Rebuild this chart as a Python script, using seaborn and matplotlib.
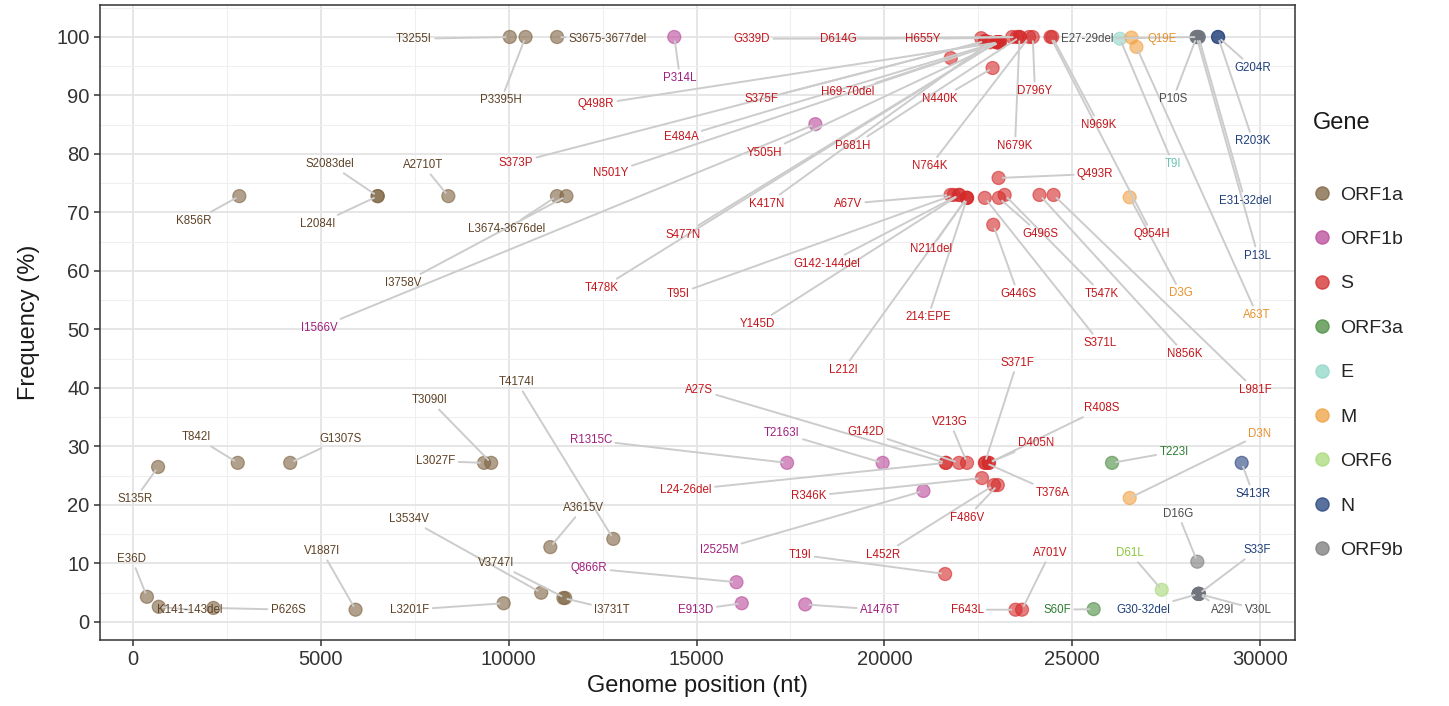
import matplotlib
matplotlib.use("Agg")
import matplotlib.pyplot as plt
from matplotlib.lines import Line2D
from matplotlib.ticker import MultipleLocator
import seaborn as sns
import pandas as pd

# ---------------- data ----------------
gene_order = ["ORF1a", "ORF1b", "S", "ORF3a", "E", "M", "ORF6", "N", "ORF9b"]

genes = (["ORF1a"] * 24 + ["ORF1b"] * 8 + ["S"] * 48 + ["ORF3a"] * 2 + ["E"] * 1
         + ["M"] * 4 + ["ORF6"] * 1 + ["N"] * 7 + ["ORF9b"] * 5)

mutations = [
    # ORF1a
    "S135R", "T842I", "G1307S", "L3027F", "T3090I", "T4174I", "A3615V", "L3534V",
    "V3747I", "I3731T", "E36D", "K141-143del", "P626S", "V1887I", "L3201F",
    "T3255I", "P3395H", "S3675-3677del", "K856R", "S2083del", "L2084I", "A2710T",
    "L3674-3676del", "I3758V",
    # ORF1b
    "P314L", "I1566V", "R1315C", "T2163I", "I2525M", "Q866R", "E913D", "A1476T",
    # S
    "G339D", "D614G", "H655Y", "Q498R", "S375F", "H69-70del", "N440K", "D796Y",
    "E484A", "Y505H", "P681H", "N501Y", "S373P", "K417N", "N764K", "N679K",
    "S477N", "T478K", "N969K", "Q954H",
    "A67V", "T95I", "G142-144del", "Y145D", "N211del", "L212I", "214:EPE", "S371L",
    "G496S", "T547K", "N856K", "L981F", "Q493R", "G446S",
    "L24-26del", "A27S", "G142D", "V213G", "S371F", "T376A", "D405N", "R408S",
    "R346K", "L452R", "F486V", "T19I", "A701V", "F643L",
    # ORF3a
    "T223I", "S60F",
    # E
    "T9I",
    # M
    "Q19E", "A63T", "D3G", "D3N",
    # ORF6
    "D61L",
    # N
    "G204R", "R203K", "P13L", "E31-32del", "S413R", "S33F", "G30-32del",
    # ORF9b
    "E27-29del", "P10S", "D16G", "A29I", "V30L",
]

position_nt = [
    # ORF1a
    668, 2789, 4184, 9344, 9533, 12785, 11108, 10865,
    11504, 11456, 371, 686, 2141, 5924, 9866,
    10029, 10449, 11288, 2831, 6512, 6515, 8393,
    11285, 11537,
    # ORF1b
    14407, 18163, 17410, 19954, 21040, 16063, 16204, 17893,
    # S
    22577, 23402, 23525, 23054, 22685, 21767, 22880, 23948,
    23012, 23075, 23603, 23063, 22679, 22811, 23852, 23597,
    22991, 22994, 24467, 24422,
    21761, 21845, 21986, 21995, 22193, 22196, 22202, 22673,
    23048, 23201, 24128, 24503, 23039, 22898,
    21632, 21641, 21986, 22200, 22673, 22688, 22775, 22784,
    22598, 22916, 23018, 21617, 23663, 23489,
    # ORF3a
    26059, 25570,
    # E
    26269,
    # M
    26577, 26709, 26529, 26529,
    # ORF6
    27382,
    # N
    28883, 28880, 28310, 28364, 29510, 28370, 28361,
    # ORF9b
    28362, 28311, 28329, 28368, 28371,
]

frequency = [
    # ORF1a
    26.5, 27.2, 27.2, 27.2, 27.2, 14.2, 12.8, 5.0,
    4.1, 4.1, 4.3, 2.6, 2.4, 2.1, 3.2,
    100.0, 100.0, 100.0, 72.8, 72.8, 72.8, 72.8,
    72.8, 72.8,
    # ORF1b
    100.0, 85.1, 27.2, 27.2, 22.4, 6.8, 3.2, 3.0,
    # S
    99.8, 100.0, 100.0, 99.1, 99.3, 96.4, 94.7, 100.0,
    99.1, 99.1, 100.0, 99.1, 99.3, 99.1, 100.0, 100.0,
    99.1, 99.1, 100.0, 100.0,
    73.0, 73.0, 73.0, 73.0, 72.5, 72.5, 72.5, 72.5,
    72.5, 73.0, 73.0, 73.0, 75.9, 67.9,
    27.2, 27.2, 27.2, 27.2, 27.2, 27.2, 27.2, 27.2,
    24.6, 23.4, 23.4, 8.2, 2.1, 2.1,
    # ORF3a
    27.2, 2.2,
    # E
    99.7,
    # M
    99.9, 98.3, 72.6, 21.2,
    # ORF6
    5.5,
    # N
    100.0, 100.0, 100.0, 100.0, 27.2, 4.8, 4.8,
    # ORF9b
    100.0, 100.0, 10.3, 4.8, 4.8,
]

# ---------------- layout: repelled label anchor positions (data units) ----------------
label_xy = {
    "S135R": (53, 21.0), "T842I": (1677, 31.6), "G1307S": (5536, 31.3),
    "L3027F": (8065, 27.5), "T3090I": (7905, 37.9), "T4174I": (10221, 41.0),
    "A3615V": (11978, 19.5), "L3534V": (7346, 17.6), "V3747I": (9662, 10.1),
    "I3731T": (12750, 2.1), "E36D": (-27, 10.8), "K141-143del": (1517, 2.1),
    "P626S": (4126, 2.1), "V1887I": (5031, 12.1), "L3201F": (7373, 2.1),
    "T3255I": (7479, 99.7), "P3395H": (9795, 89.2), "S3675-3677del": (12643, 99.7),
    "K856R": (1624, 68.5), "S2083del": (5244, 78.3), "L2084I": (4924, 68.0),
    "A2710T": (7719, 78.1), "L3674-3676del": (9955, 67.2), "I3758V": (7187, 57.9),
    "P314L": (14560, 93.0), "I1566V": (4951, 50.3), "R1315C": (12190, 31.1),
    "T2163I": (17274, 32.3), "I2525M": (15598, 12.3), "Q866R": (12137, 9.2),
    "E913D": (14985, 2.1), "A1476T": (19883, 2.1),
    "G339D": (16476, 99.7), "D614G": (18765, 99.7), "H655Y": (21027, 99.7),
    "Q498R": (12324, 88.5), "S375F": (16742, 89.4), "H69-70del": (19031, 90.6),
    "N440K": (21480, 89.4), "D796Y": (24008, 90.8), "E484A": (14586, 82.9),
    "Y505H": (16822, 80.2), "P681H": (19164, 81.4), "N501Y": (12723, 76.8),
    "S373P": (10194, 78.5), "K417N": (16875, 71.5), "N764K": (21214, 77.9),
    "N679K": (23476, 81.4), "S477N": (14639, 66.2), "T478K": (12483, 57.1),
    "N969K": (25712, 85.0), "Q954H": (27123, 66.3),
    "A67V": (19031, 71.5), "T95I": (14506, 56.1), "G142-144del": (18472, 61.2),
    "Y145D": (16609, 50.9), "N211del": (21240, 63.8), "L212I": (18898, 43.1),
    "214:EPE": (21161, 52.1), "S371L": (25739, 47.7), "G496S": (24142, 66.3),
    "T547K": (25792, 56.1), "N856K": (28001, 45.8), "L981F": (29864, 39.7),
    "Q493R": (25606, 76.6), "G446S": (23556, 56.1),
    "L24-26del": (14719, 22.6), "A27S": (15065, 39.7), "G142D": (19510, 32.5),
    "V213G": (21746, 34.2), "S371F": (23529, 44.3), "T376A": (24488, 22.1),
    "D405N": (24035, 30.6), "R408S": (25792, 36.6), "R346K": (17993, 21.5),
    "L452R": (19963, 11.5), "F486V": (22199, 17.8), "T19I": (17754, 11.5),
    "A701V": (24408, 11.8), "F643L": (22199, 2.1),
    "T223I": (27708, 29.1), "S60F": (24594, 2.1),
    "T9I": (27682, 78.3),
    "Q19E": (27388, 99.7), "A63T": (29918, 52.5), "D3G": (27895, 56.2), "D3N": (29997, 32.1),
    "D61L": (26537, 11.8),
    "G204R": (29811, 94.7), "R203K": (29811, 82.2), "P13L": (29944, 62.6),
    "E31-32del": (29598, 72.0), "S413R": (29811, 21.9), "S33F": (29917, 12.3),
    "G30-32del": (26883, 2.1),
    "E27-29del": (25393, 99.7), "P10S": (27682, 89.4), "D16G": (27815, 18.5),
    "A29I": (29013, 2.1), "V30L": (29944, 2.1),
}

point_colors = {
    "ORF1a": "#7D6240", "ORF1b": "#B8489A", "S": "#D42A2A", "ORF3a": "#4A8C3F",
    "E": "#8FD6C8", "M": "#F0A040", "ORF6": "#A8DA78", "N": "#24427C", "ORF9b": "#7A7A7A",
}
text_colors = {
    "ORF1a": "#5E4226", "ORF1b": "#A0207E", "S": "#C4161C", "ORF3a": "#2E7D32",
    "E": "#6CC3B3", "M": "#E8912D", "ORF6": "#8CC63F", "N": "#1F3F7A", "ORF9b": "#4D4D4D",
}

df = pd.DataFrame({"gene": genes, "mutation": mutations,
                   "position": position_nt, "freq": frequency})

# ---------------- plot ----------------
sns.set_style("white")
plt.rcParams["font.family"] = ["Liberation Sans", "DejaVu Sans"]

fig = plt.figure(figsize=(14.49, 7.06), dpi=100)
ax = fig.add_axes([100 / 1449, 1 - 640 / 706, 1195 / 1449, 635 / 706])

sns.scatterplot(data=df, x="position", y="freq", hue="gene", hue_order=gene_order,
                palette=point_colors, s=88, alpha=0.6, linewidth=0.9,
                edgecolor=None, legend=False, ax=ax, zorder=2)
coll = ax.collections[-1]
coll.set_edgecolors(coll.get_facecolors())

LABEL_FS = 8.3
for g, m, xpos, ypos in zip(genes, mutations, position_nt, frequency):
    lx, ly = label_xy[m]
    # segment (clipped to the label's box), drawn below all labels
    ax.annotate(m, xy=(xpos, ypos), xytext=(lx, ly), textcoords="data",
                ha="center", va="center", fontsize=LABEL_FS, color="none",
                zorder=3,
                arrowprops=dict(arrowstyle="-", color="#CCCCCC", lw=1.4,
                                shrinkA=0, shrinkB=3))
    ax.text(lx, ly, m, ha="center", va="center", fontsize=LABEL_FS,
            color=text_colors[g], zorder=5)

ax.set_xlim(-878, 30929)
ax.set_ylim(-3.08, 105.47)
ax.xaxis.set_major_locator(MultipleLocator(5000))
ax.xaxis.set_minor_locator(MultipleLocator(2500))
ax.yaxis.set_major_locator(MultipleLocator(10))
ax.yaxis.set_minor_locator(MultipleLocator(5))
ax.grid(which="major", color="#E4E4E4", lw=1.3, zorder=0)
ax.grid(which="minor", color="#EFEFEF", lw=0.8, zorder=0)
ax.set_axisbelow(True)
for sp in ax.spines.values():
    sp.set_color("#333333")
    sp.set_linewidth(1.1)
ax.tick_params(axis="both", which="major", direction="out", length=4, width=1.1,
               color="#333333", labelsize=14.5, labelcolor="#333333",
               bottom=True, left=True)
ax.tick_params(which="minor", length=0)
ax.set_xlabel("Genome position (nt)", fontsize=17, color="#1a1a1a", labelpad=4)
ax.set_ylabel("Frequency (%)", fontsize=17, color="#1a1a1a", labelpad=12)

handles = [Line2D([], [], marker="o", linestyle="", markersize=9.5,
                  markerfacecolor=point_colors[g], markeredgecolor=point_colors[g],
                  alpha=0.75) for g in gene_order]
fig.text(1313 / 1449, 1 - 123 / 706, "Gene", fontsize=17, color="#1a1a1a",
         ha="left", va="center")
leg = fig.legend(handles, gene_order, loc="upper left",
                 bbox_to_anchor=(1312 / 1449, 1 - 186 / 706), frameon=False,
                 fontsize=14, labelspacing=1.38, borderpad=0,
                 handletextpad=0.45, handlelength=1.0, borderaxespad=0)

fig.savefig("out.png", dpi=100)
